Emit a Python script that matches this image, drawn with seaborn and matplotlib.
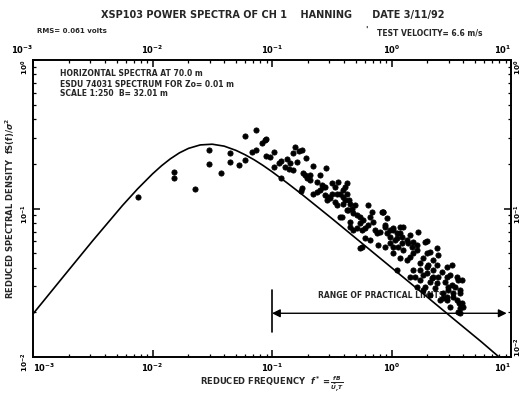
import matplotlib
matplotlib.use("Agg")
import matplotlib.pyplot as plt
import seaborn as sns
import pandas as pd
from matplotlib.ticker import LogLocator, NullFormatter, FixedLocator, LogFormatterMathtext

# ---- data ----
freq = [0.0076, 0.0151, 0.0151, 0.0225, 0.0299, 0.0299, 0.0377, 0.0448, 0.0448, 0.0526,
        0.0598, 0.0598, 0.0738, 0.0681, 0.0738, 0.0824, 0.0895, 0.0895, 0.0966, 0.1045,
        0.1045, 0.1135, 0.119, 0.133, 0.129, 0.140, 0.150, 0.142, 0.156, 0.167,
        0.151, 0.178, 0.163, 0.193, 0.119, 0.178, 0.175, 0.222, 0.190, 0.196,
        0.206, 0.208, 0.237, 0.253, 0.284, 0.261, 0.279, 0.253, 0.237, 0.222,
        0.279, 0.296, 0.288, 0.0879, 0.183, 0.317, 0.337, 0.360, 0.395, 0.423,
        0.348, 0.269, 0.306, 0.337, 0.348, 0.384, 0.436, 0.445, 0.409, 0.423,
        0.395, 0.409, 0.450, 0.466, 0.495, 0.480, 0.512, 0.546, 0.582, 0.546,
        0.564, 0.601, 0.640, 0.661, 0.705, 0.728, 0.752, 0.802, 0.828, 0.912,
        0.640, 0.883, 0.971, 1.035, 1.104, 1.178, 1.256, 1.216, 1.340, 1.426,
        1.521, 1.622, 1.675, 0.423, 0.372, 0.450, 0.480, 0.564, 0.512, 0.855,
        0.883, 0.971, 0.912, 1.035, 1.104, 1.178, 1.216, 1.069, 0.971, 0.883,
        1.140, 1.256, 1.380, 1.476, 1.426, 1.340, 1.521, 1.622, 1.730, 1.845,
        1.968, 1.905, 2.099, 2.028, 2.234, 2.234, 2.382, 2.460, 2.624, 2.799,
        2.891, 3.083, 3.184, 2.979, 3.388, 3.281, 3.499, 3.733, 3.681, 3.981,
        2.710, 2.891, 2.168, 2.307, 1.845, 1.730, 1.521, 1.570, 3.184, 1.968,
        2.460, 1.178, 1.035, 1.622, 1.905, 2.099, 2.541, 3.083, 3.733, 3.855,
        3.499, 3.614, 3.733, 3.855, 3.614, 3.733, 3.281, 2.979, 2.891, 2.710,
        1.730, 1.968, 2.234, 2.382, 2.099, 0.845, 1.968, 2.382, 0.546, 1.104,
        0.450, 1.035, 1.426, 1.845, 2.891, 0.317, 0.372, 0.395, 0.661, 0.771,
        0.601, 0.690]
density = [0.120, 0.176, 0.160, 0.135, 0.248, 0.199, 0.173, 0.236, 0.207, 0.196,
           0.309, 0.212, 0.338, 0.241, 0.248, 0.275, 0.292, 0.226, 0.223, 0.241,
           0.191, 0.203, 0.210, 0.214, 0.189, 0.184, 0.182, 0.201, 0.258, 0.245,
           0.236, 0.248, 0.205, 0.218, 0.160, 0.137, 0.131, 0.193, 0.168, 0.160,
           0.156, 0.168, 0.151, 0.168, 0.187, 0.144, 0.140, 0.133, 0.130, 0.126,
           0.123, 0.119, 0.114, 0.289, 0.173, 0.148, 0.140, 0.151, 0.133, 0.148,
           0.126, 0.140, 0.117, 0.111, 0.106, 0.0881, 0.0977, 0.114, 0.140, 0.126,
           0.120, 0.114, 0.108, 0.100, 0.106, 0.0929, 0.0904, 0.0881, 0.0837, 0.0794,
           0.0716, 0.0736, 0.0774, 0.0881, 0.0815, 0.0716, 0.0681, 0.0698, 0.0951, 0.0859,
           0.106, 0.0753, 0.0646, 0.0716, 0.0630, 0.0681, 0.0753, 0.0583, 0.0614, 0.0664,
           0.0597, 0.0568, 0.0698, 0.0977, 0.0881, 0.0815, 0.0716, 0.0553, 0.0736, 0.0951,
           0.0774, 0.0716, 0.0681, 0.0736, 0.0681, 0.0753, 0.0646, 0.0614, 0.0583, 0.0553,
           0.0553, 0.0526, 0.0583, 0.0553, 0.0473, 0.0450, 0.0499, 0.0526, 0.0428, 0.0462,
           0.0499, 0.0597, 0.0512, 0.0417, 0.0450, 0.0385, 0.0417, 0.0348, 0.0375, 0.0321,
           0.0406, 0.0356, 0.0305, 0.0282, 0.0297, 0.0255, 0.0242, 0.0269, 0.0230, 0.0218,
           0.0269, 0.0242, 0.0339, 0.0290, 0.0356, 0.0330, 0.0385, 0.0348, 0.0417, 0.0406,
           0.0486, 0.0462, 0.0499, 0.0297, 0.0297, 0.0262, 0.0242, 0.0218, 0.0213, 0.0330,
           0.0348, 0.0330, 0.0282, 0.0230, 0.0202, 0.0197, 0.0269, 0.0297, 0.0348, 0.0248,
           0.0385, 0.0366, 0.0348, 0.0313, 0.0321, 0.0951, 0.0607, 0.0540, 0.0540, 0.0385,
           0.0753, 0.0553, 0.0348, 0.0282, 0.0255, 0.126, 0.126, 0.108, 0.0614, 0.0568,
           0.0630, 0.0940]

curve_x = [0.001, 0.00178, 0.00316, 0.00562, 0.0075, 0.01, 0.0119, 0.0141, 0.0168, 0.02,
           0.0251, 0.0316, 0.0398, 0.0501, 0.0596, 0.0708, 0.0841, 0.1, 0.1334, 0.178,
           0.316, 0.562, 1.0, 1.78, 3.16, 5.62, 7.94]
curve_y = [0.0195, 0.0345, 0.0607, 0.105, 0.1355, 0.171, 0.194, 0.216, 0.237, 0.254,
           0.268, 0.271, 0.263, 0.246, 0.230, 0.213, 0.195, 0.177, 0.149, 0.1245,
           0.0858, 0.0586, 0.040, 0.0273, 0.0186, 0.0127, 0.0100]

x_ticks = [1e-3, 1e-2, 1e-1, 1e0, 1e1]
y_ticks = [1e-2, 1e-1, 1e0]

range_lo, range_hi, range_level = 0.1, 9.2, 0.0197

sns.set_theme(style="ticks")
plt.rcParams["font.family"] = ["DejaVu Sans"]
plt.rcParams["font.weight"] = "bold"

fig = plt.figure(figsize=(5.23, 3.95), dpi=100)
ax = fig.add_axes([33/523, 1-357/395, 478/523, 297/395])

pts = pd.DataFrame({"f": freq, "S": density})
crv = pd.DataFrame({"f": curve_x, "S": curve_y})

sns.lineplot(data=crv, x="f", y="S", color="black", linewidth=1.2, ax=ax,
             estimator=None, sort=False, zorder=2)
sns.scatterplot(data=pts, x="f", y="S", color="black", edgecolor="black",
                s=14, linewidth=0.6, ax=ax, zorder=3)

ax.set_xscale("log")
ax.set_yscale("log")
ax.set_xlim(1e-3, 1e1)
ax.set_ylim(1e-2, 1e0)

for sp in ax.spines.values():
    sp.set_linewidth(1.4)
    sp.set_color("black")

ax.xaxis.set_major_locator(FixedLocator(x_ticks))
ax.yaxis.set_major_locator(FixedLocator(y_ticks))
ax.xaxis.set_major_formatter(LogFormatterMathtext())
ax.yaxis.set_major_formatter(LogFormatterMathtext())
ax.xaxis.set_minor_locator(LogLocator(base=10, subs=range(2, 10), numticks=20))
ax.yaxis.set_minor_locator(LogLocator(base=10, subs=range(2, 10), numticks=20))
ax.xaxis.set_minor_formatter(NullFormatter())
ax.yaxis.set_minor_formatter(NullFormatter())
ax.tick_params(which="both", direction="in", top=True, right=True,
               labeltop=True, labelright=True, colors="black")
ax.tick_params(axis="x", labelsize=6, pad=3)
ax.tick_params(axis="y", labelsize=5.2, pad=1.5, labelrotation=90)
ax.tick_params(which="major", length=5, width=1.1)
ax.tick_params(which="minor", length=2.5, width=0.9)

# corner tick labels nudged inward like the reference
xt = ax.xaxis.get_major_ticks()
yt = ax.yaxis.get_major_ticks()
xt[0].label1.set_horizontalalignment("left")
xt[0].label2.set_horizontalalignment("right")
xt[-1].label1.set_horizontalalignment("right")
xt[-1].label2.set_horizontalalignment("right")
yt[-1].label1.set_verticalalignment("top")
yt[-1].label2.set_verticalalignment("top")
yt[0].label2.set_verticalalignment("bottom")

ax.set_xlabel(r"REDUCED FREQUENCY  $f^* = \frac{fB}{\bar{U}_r T}$", fontsize=6,
              fontweight="bold", labelpad=1)
ax.set_ylabel(r"REDUCED SPECTRAL DENSITY  fS(f)/$\sigma^2$", fontsize=6,
              fontweight="bold", labelpad=2)

# range of practical limits
ax.annotate("", xy=(range_hi, range_level), xytext=(range_lo, range_level),
            arrowprops=dict(arrowstyle="<|-|>", color="black", lw=1.0,
                            mutation_scale=12, shrinkA=0, shrinkB=0), zorder=1)
ax.plot([range_lo, range_lo], [0.0148, 0.0282], color="black", lw=1.2, zorder=1)
ax.text(0.243, 0.0258, "RANGE OF PRACTICAL LIMITS", fontsize=5.5,
        fontweight="bold", va="center", ha="left", zorder=1)

ax.text(0.056, 0.953, "HORIZONTAL SPECTRA AT 70.0 m", transform=ax.transAxes,
        fontsize=5.5, fontweight="bold", va="center")
ax.text(0.056, 0.919, "ESDU 74031 SPECTRUM FOR Zo= 0.01 m", transform=ax.transAxes,
        fontsize=5.5, fontweight="bold", va="center")
ax.text(0.056, 0.886, "SCALE 1:250  B= 32.01 m", transform=ax.transAxes,
        fontsize=5.5, fontweight="bold", va="center")

fig.text(0.522, 0.962, "XSP103 POWER SPECTRA OF CH 1    HANNING      DATE 3/11/92",
         ha="center", va="center", fontsize=7, fontweight="bold")
fig.text(0.071, 0.922, "RMS= 0.061 volts", ha="left", va="center",
         fontsize=5, fontweight="bold")
fig.text(0.698, 0.922, "'", ha="left", va="center", fontsize=6, fontweight="bold")
fig.text(0.721, 0.916, "TEST VELOCITY= 6.6 m/s", ha="left", va="center",
         fontsize=5.5, fontweight="bold")

fig.savefig("out.png", dpi=100)
